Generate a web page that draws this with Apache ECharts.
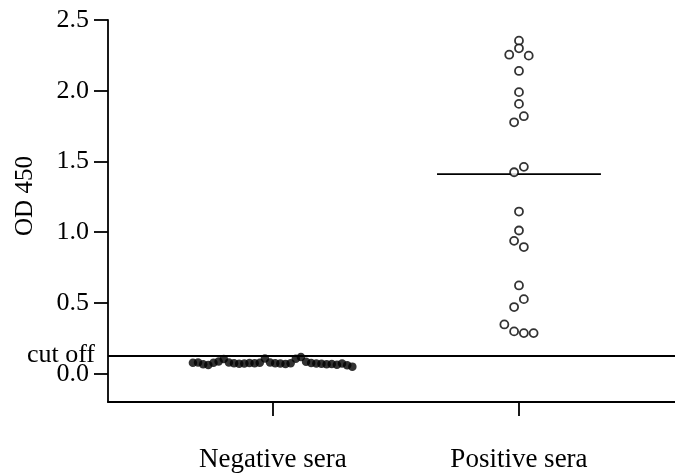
<!DOCTYPE html>
<html>
<head>
<meta charset="utf-8">
<script src="https://cdn.jsdelivr.net/npm/echarts@6/dist/echarts.min.js"></script>
<style>
  html, body { margin: 0; padding: 0; background: #fff; }
  #chart { width: 675px; height: 475px; }
</style>
</head>
<body>
<div id="chart"></div>
<script>
// Group names shown under the x axis
const groups = ['Negative sera', 'Positive sera'];

// OD 450 readings per serum
const negativeOD = [0.078, 0.080, 0.066, 0.062, 0.078, 0.086, 0.104, 0.080, 0.074, 0.070,
                    0.072, 0.076, 0.074, 0.078, 0.108, 0.080, 0.074, 0.072, 0.068, 0.074,
                    0.105, 0.118, 0.084, 0.076, 0.072, 0.070, 0.066, 0.068, 0.064, 0.072,
                    0.060, 0.050];
const positiveOD = [2.354, 2.300, 2.255, 2.248, 2.140, 1.990, 1.907, 1.820, 1.777, 1.462,
                    1.424, 1.146, 1.012, 0.939, 0.895, 0.624, 0.527, 0.471, 0.348, 0.299,
                    0.287, 0.287];

// Cut-off value and central line for positive sera
const cutOff = 0.13;
const positiveCenter = 1.41;

// Y axis tick values and title
const yTicks = [0, 0.5, 1.0, 1.5, 2.0, 2.5];
const yTitle = 'OD 450';

// ---- layout (scatter spread within each column) ----
const negSpreadStart = -0.325, negSpreadStep = 0.0209;
const posStep = 0.0198;
const posSlots = [0, 0, -2, 2, 0, 0, 0, 1, -1, 1, -1, 0, 0, -1, 1, 0, 1, -1, -3, -1, 1, 3];

const negPoints = negativeOD.map((v, i) => [1 + negSpreadStart + i * negSpreadStep, v]);
const posPoints = positiveOD.map((v, i) => [2 + posSlots[i] * posStep, v]);

const serif = 'Liberation Serif';
const chart = echarts.init(document.getElementById('chart'), null, { renderer: 'canvas' });

chart.setOption({
  animation: false,
  backgroundColor: '#fff',
  grid: { left: 108, right: 0, top: 20, bottom: 73, containLabel: false },
  graphic: [{
    type: 'text',
    x: 25,
    y: 196,
    rotation: Math.PI / 2,
    style: {
      text: yTitle, fill: '#000', fontFamily: serif, fontSize: 25,
      align: 'center', verticalAlign: 'middle'
    }
  }],
  xAxis: {
    type: 'value',
    min: 0.33,
    max: 2.634,
    splitLine: { show: false },
    axisLine: { show: true, onZero: false, lineStyle: { color: '#000', width: 1.8 } },
    axisTick: { show: true, customValues: [1, 2], length: 14, lineStyle: { color: '#000', width: 1.8 } },
    axisLabel: {
      customValues: [1, 2],
      formatter: v => groups[Math.round(v) - 1],
      color: '#000', fontFamily: serif, fontSize: 27, margin: 44
    }
  },
  yAxis: {
    type: 'value',
    min: -0.2,
    max: 2.5,
    splitLine: { show: false },
    axisLine: { show: true, onZero: false, lineStyle: { color: '#000', width: 1.8 } },
    axisTick: { show: true, customValues: yTicks, length: 14, lineStyle: { color: '#000', width: 1.8 } },
    axisLabel: {
      customValues: yTicks,
      formatter: v => v.toFixed(1),
      color: '#000', fontFamily: serif, fontSize: 26, margin: 19
    }
  },
  series: [
    {
      name: 'Negative sera',
      type: 'scatter',
      data: negPoints,
      symbol: 'circle',
      symbolSize: 8.5,
      itemStyle: { color: '#000' },
      markLine: {
        silent: true,
        symbol: ['none', 'none'],
        lineStyle: { color: '#000', width: 1.8, type: 'solid' },
        label: {
          show: true, position: 'start', formatter: 'cut off',
          color: '#000', fontFamily: serif, fontSize: 26, distance: 13
        },
        data: [{ yAxis: cutOff }]
      }
    },
    {
      name: 'Positive sera',
      type: 'scatter',
      data: posPoints,
      symbol: 'circle',
      symbolSize: 8,
      itemStyle: { color: '#fff', borderColor: '#000', borderWidth: 1.8 },
      z: 3
    },
    {
      name: 'Positive center',
      type: 'line',
      data: [[2 - 0.333, positiveCenter], [2 + 0.333, positiveCenter]],
      symbol: 'none',
      lineStyle: { color: '#000', width: 1.8 },
      z: 2
    }
  ]
});
</script>
</body>
</html>
